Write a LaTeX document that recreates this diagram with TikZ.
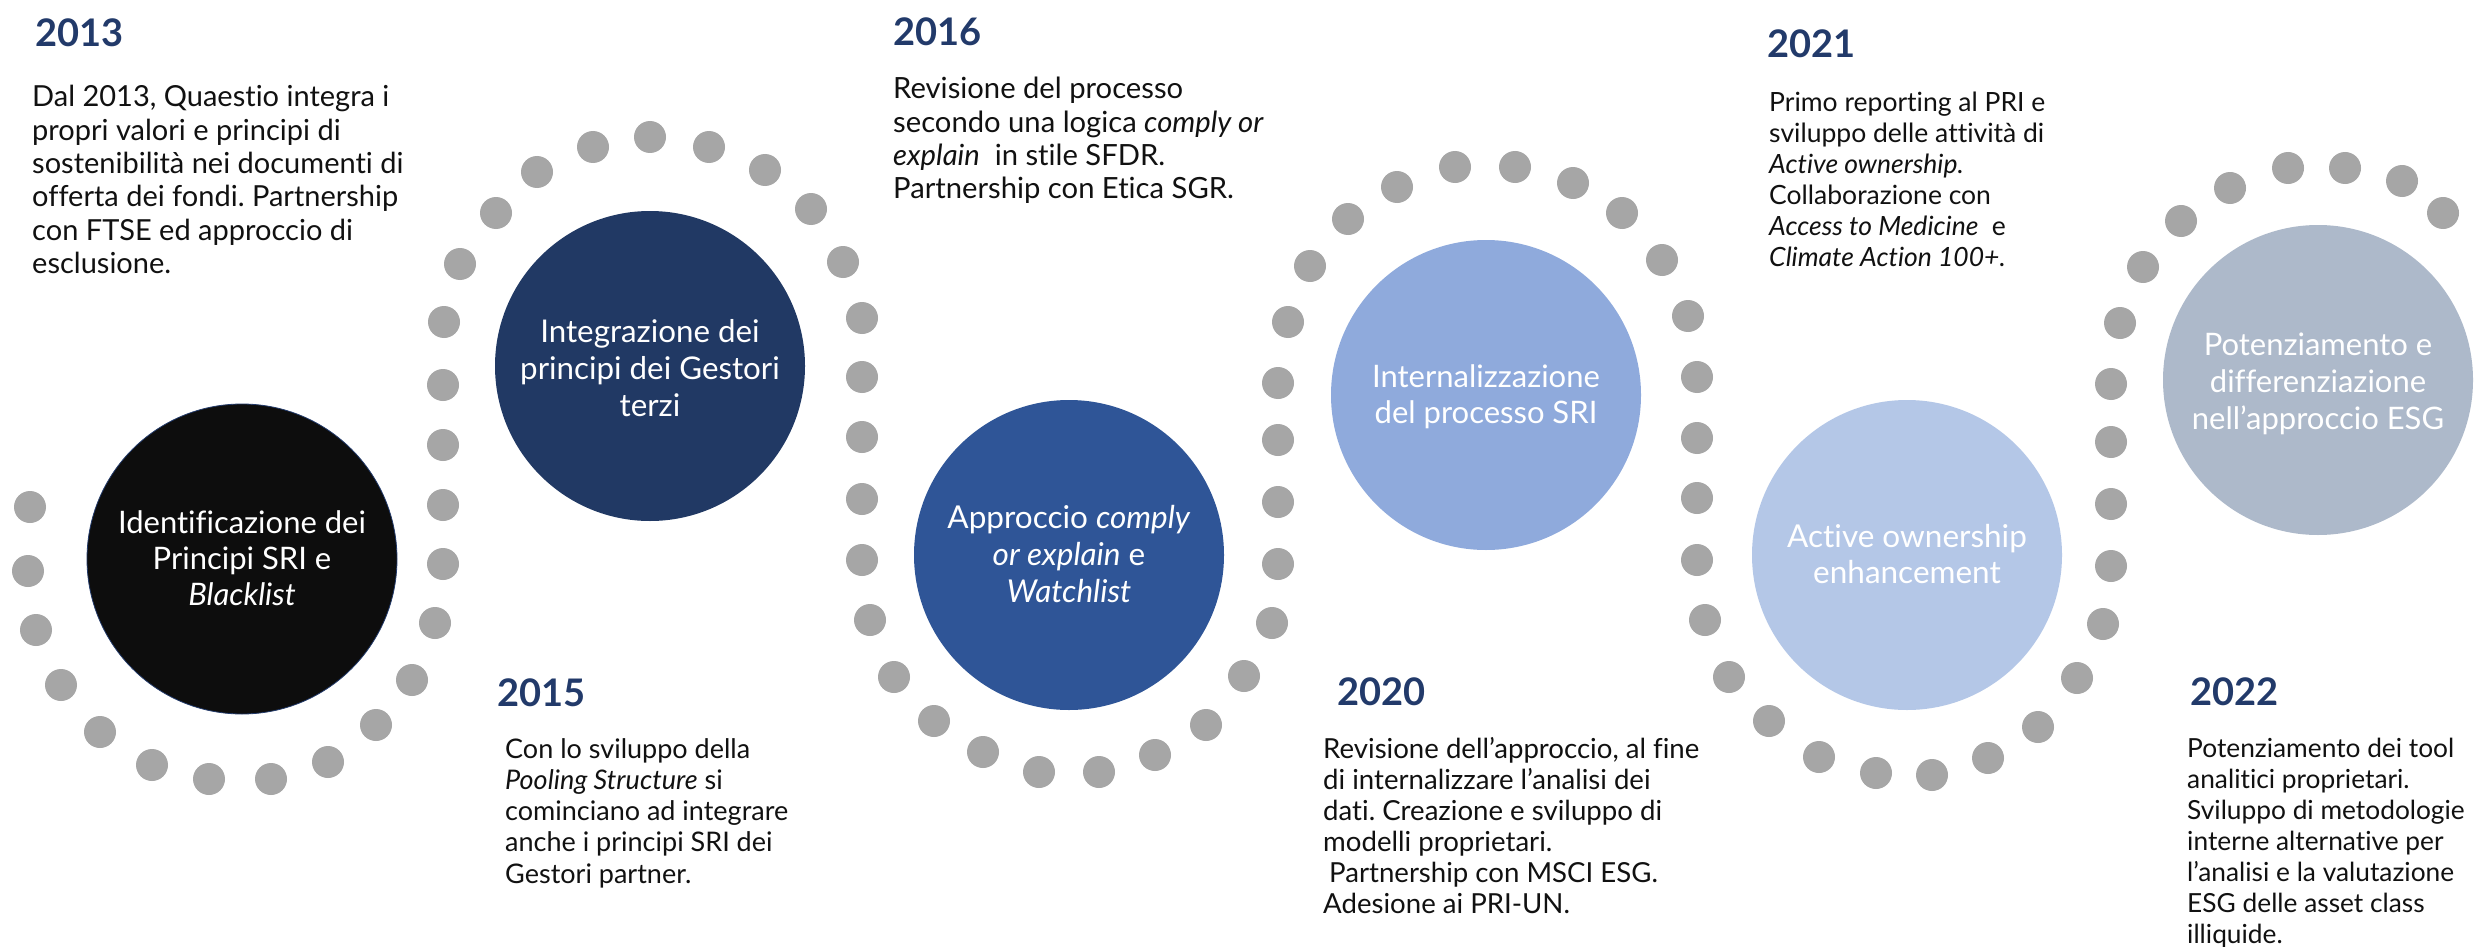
\documentclass[tikz,border=0pt]{standalone}
\usepackage{fontspec}
\setmainfont{Lato}[Ligatures=NoCommon]
\frenchspacing
\definecolor{dotc}{HTML}{A6A6A6}
\definecolor{yearc}{HTML}{223A6A}
\definecolor{bodyc}{HTML}{111111}
\definecolor{cA}{HTML}{0D0D0D}
\definecolor{cB}{HTML}{213964}
\definecolor{cC}{HTML}{2F5597}
\definecolor{cD}{HTML}{8FAADC}
\definecolor{cE}{HTML}{B4C7E7}
\definecolor{cF}{HTML}{ADB9CA}
\newcommand{\blkL}[1]{\begin{tabular}[t]{@{}l@{}}#1\end{tabular}}
\newcommand{\blkC}[1]{\begin{tabular}[t]{@{}c@{}}#1\end{tabular}}
\tikzset{
  disc/.style={circle, minimum size=310pt, inner sep=0pt, draw=none},
  year/.style={anchor=base west, inner sep=0pt, text=yearc, font=\bfseries\fontsize{38}{40}\selectfont},
  body/.style={anchor=base west, inner sep=0pt, text=bodyc},
  ctext/.style={anchor=base, inner sep=0pt, text=white},
}
\begin{document}
\begin{tikzpicture}[x=1pt,y=-1pt]
\useasboundingbox[fill=white] (0,0) rectangle (2487,947);
% dotted serpentine
\foreach \p in {(30,507),(28,571),(36,630),(61,685),(100,732),(152,765),(209,779),(271,779),(328,762),(376,725),(412,680),(435,623),(443,564),(443,505),(443,445),(443,385),(444,322),
(460,264),(496,213),(537,172),(593,147),(650,137),(709,147),(765,170),(811,209),(843,262),
(862,318),(862,377),(862,437),(862,499),(862,560),
(870,620),(894,677),(934,721),(983,752),(1039,772),(1099,772),(1155,755),(1206,725),(1244,676),(1272,623),(1278,564),(1278,502),(1278,440),(1278,383),(1288,322),
(1310,266),(1348,219),(1397,187),(1455,167),(1515,167),(1573,183),(1622,213),(1662,260),(1688,316),
(1697,377),(1697,438),(1697,498),(1697,560),
(1705,620),(1729,677),(1769,721),(1819,757),(1876,773),(1932,775),(1988,758),(2038,727),(2077,678),(2103,624),(2111,566),(2111,504),(2111,442),(2111,384),(2120,323),
(2143,267),(2181,221),(2230,188),(2288,168),(2345,168),(2402,181),(2443,213)}
  \fill[dotc] \p circle[radius=16pt];
% circles
\node[disc, fill=cA, draw=yearc, line width=0.8pt] (c1) at (242,559) {};
\node[disc, fill=cB] (c2) at (650,366) {};
\node[disc, fill=cC] (c3) at (1069,555) {};
\node[disc, fill=cD] (c4) at (1486,395) {};
\node[disc, fill=cE] (c5) at (1907,555) {};
\node[disc, fill=cF] (c6) at (2318,380) {};
% circle labels
\node[ctext, font=\fontsize{31}{36}\selectfont] (l1) at (242,533) {\blkC{Identificazione dei\\Principi SRI e\\\textit{Blacklist}}};
\node[ctext, font=\fontsize{31.3}{37}\selectfont] (l2) at (650,342) {\blkC{Integrazione dei\\principi dei Gestori\\terzi}};
\node[ctext, font=\fontsize{31.5}{37}\selectfont] (l3) at (1069,528) {\blkC{Approccio \textit{comply}\\\textit{or explain} e\\\textit{Watchlist}}};
\node[ctext, font=\fontsize{31}{36}\selectfont] (l4) at (1486,387) {\blkC{Internalizzazione\\del processo SRI}};
\node[ctext, font=\fontsize{31.5}{36}\selectfont] (l5) at (1907,547) {\blkC{Active ownership\\enhancement}};
\node[ctext, font=\fontsize{31}{37}\selectfont] (l6) at (2318,355) {\blkC{Potenziamento e\\differenziazione\\nell’approccio ESG}};
% years
\node[year] (y1) at (35,47) {2013};
\node[year] (y2) at (497,706) {2015};
\node[year] (y3) at (893,46) {2016};
\node[year] (y4) at (1337,705) {2020};
\node[year] (y5) at (1767,58) {2021};
\node[year] (y6) at (2190,705) {2022};
% bodies
\node[body, font=\fontsize{29}{33.3}\selectfont] (b1) at (32,107) {\blkL{Dal 2013, Quaestio integra i\\propri valori e principi di\\sostenibilità nei documenti di\\offerta dei fondi. Partnership\\con FTSE ed approccio di\\esclusione.}};
\node[body, font=\fontsize{27}{31.3}\selectfont] (b2) at (505,758) {\blkL{Con lo sviluppo della\\\textit{Pooling Structure} si\\cominciano ad integrare\\anche i principi SRI dei\\Gestori partner.}};
\node[body, font=\fontsize{29.2}{33.3}\selectfont] (b3) at (893,99) {\blkL{Revisione del processo\\secondo una logica \textit{comply or}\\\textit{explain}\ \ in stile SFDR.\\Partnership con Etica SGR.}};
\node[body, font=\fontsize{27.6}{31}\selectfont] (b4) at (1323,758) {\blkL{Revisione dell’approccio, al fine\\di internalizzare l’analisi dei\\dati. Creazione e sviluppo di\\modelli proprietari.\\\hspace{6pt}Partnership con MSCI ESG.\\Adesione ai PRI-UN.}};
\node[body, font=\fontsize{26.5}{31}\selectfont] (b5) at (1769,112) {\blkL{Primo reporting al PRI e\\sviluppo delle attività di\\\textit{Active ownership.}\\Collaborazione con\\\textit{Access to Medicine}\ \ e\\\textit{Climate Action 100+.}}};
\node[body, font=\fontsize{26.3}{31}\selectfont] (b6) at (2187,757) {\blkL{Potenziamento dei tool\\analitici proprietari.\\Sviluppo di metodologie\\interne alternative per\\l’analisi e la valutazione\\ESG delle asset class\\illiquide.}};
\end{tikzpicture}
\end{document}
